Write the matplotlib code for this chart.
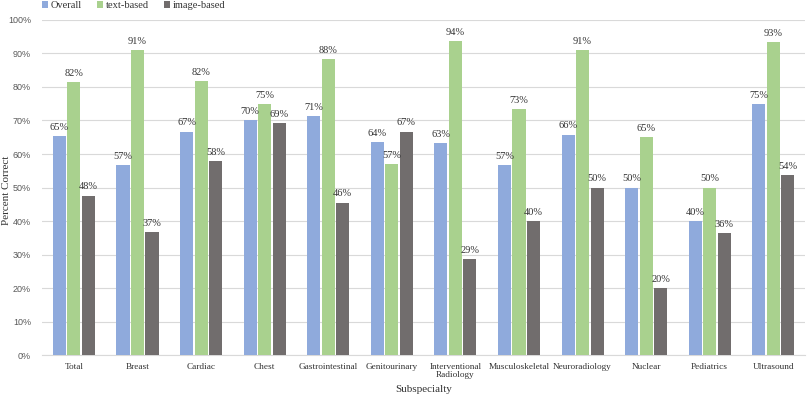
import matplotlib
matplotlib.use("Agg")
import matplotlib.pyplot as plt
import numpy as np
from matplotlib.ticker import FuncFormatter

categories = ["Total", "Breast", "Cardiac", "Chest", "Gastrointestinal", "Genitourinary",
              "Interventional\nRadiology", "Musculoskeletal", "Neuroradiology", "Nuclear",
              "Pediatrics", "Ultrasound"]
overall = [65.3, 56.7, 66.7, 70.0, 71.4, 63.6, 63.2, 56.6, 65.8, 50.0, 40.0, 75.0]
text_based = [81.5, 90.9, 81.8, 75.0, 88.2, 57.1, 93.8, 73.3, 90.9, 65.0, 50.0, 93.3]
image_based = [47.6, 36.8, 57.9, 69.2, 45.5, 66.7, 28.6, 40.0, 50.0, 20.0, 36.4, 53.8]
series_names = ["Overall", "text-based", "image-based"]

colors = ["#8FAADC", "#A9D18E", "#716D6D"]
serif = "Liberation Serif"
txt = "#333333"

fig = plt.figure(figsize=(8.10, 3.99), dpi=100)
ax = fig.add_axes([0.052, 0.110, 0.942, 0.840])

x = np.arange(len(categories))
step = 0.228
width = 0.205
for i, (vals, name, c) in enumerate(zip([overall, text_based, image_based], series_names, colors)):
    xs = x + (i - 1) * step
    ax.bar(xs, vals, width=width, color=c, label=name, zorder=3)
    for xx, v in zip(xs, vals):
        ax.annotate(f"{v:.0f}%", (xx, v), xytext=(0, 3), textcoords="offset points",
                    ha="center", va="bottom", fontsize=7.5, family=serif, color=txt, zorder=4)

ax.set_xlim(-0.5, len(categories) - 0.5)
ax.set_ylim(0, 100)
ax.set_yticks(np.arange(0, 101, 10))
ax.yaxis.set_major_formatter(FuncFormatter(lambda v, p: f"{v:.0f}%"))
ax.grid(axis="y", color="#D9D9D9", linewidth=0.8, zorder=0)
for s in ["top", "right", "left"]:
    ax.spines[s].set_visible(False)
ax.spines["bottom"].set_color("#D9D9D9")
ax.tick_params(axis="both", length=0)
ax.tick_params(axis="y", labelsize=6.5, labelcolor="#595959", pad=8)
for t in ax.get_yticklabels():
    t.set_family("Liberation Sans")
ax.set_xticks(x)
ax.set_xticklabels(categories, fontsize=6.7, family=serif, color=txt, linespacing=1.0)
ax.tick_params(axis="x", pad=6)

fig.text(7 / 810, 1 - 190 / 399, "Percent Correct", rotation=90, ha="center", va="center",
         fontsize=8, family=serif, color=txt)
ax.set_xlabel("Subspecialty", fontsize=8, family=serif, color=txt, labelpad=4)

leg = ax.legend(loc="upper left", bbox_to_anchor=(-0.006, 1.068), ncol=3, frameon=False,
                prop={"family": serif, "size": 7.5}, handlelength=0.6, handleheight=0.6,
                handletextpad=0.3, columnspacing=1.4, borderaxespad=0)
for t in leg.get_texts():
    t.set_color(txt)

fig.savefig("out.png", dpi=100)
